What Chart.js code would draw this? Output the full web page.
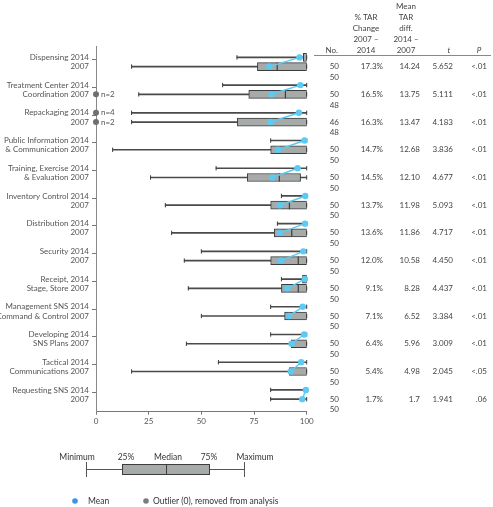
<!DOCTYPE html>
<html>
<head>
<meta charset="utf-8">
<script src="https://cdn.jsdelivr.net/npm/chart.js@4/dist/chart.umd.min.js"></script>
<style>
  html, body { margin: 0; padding: 0; background: #fff; }
  canvas { display: block; }
</style>
</head>
<body>
<canvas id="chart" width="493" height="507"></canvas>
<script>
// row labels, first line goes with 2014, second with 2007
const labels2014 = ['Dispensing 2014', 'Treatment Center 2014', 'Repackaging 2014', 'Public Information 2014',
    'Training, Exercise 2014', 'Inventory Control 2014', 'Distribution 2014', 'Security 2014', 'Receipt, 2014',
    'Management SNS 2014', 'Developing 2014', 'Tactical 2014', 'Requesting SNS 2014'];
const labels2007 = ['2007', 'Coordination 2007', '2007', '& Communication 2007', '& Evaluation 2007', '2007',
    '2007', '2007', 'Stage, Store 2007', 'Command & Control 2007', 'SNS Plans 2007', 'Communications 2007', '2007'];

// 2014 distributions
const min2014 = [66.9, 60.1, 16.9, 82.9, 57.0, 88.0, 86.1, 50.0, 88.0, 82.9, 82.9, 58.1, 82.9];
const max2014 = [100, 100, 100, 100, 100, 100, 100, 100, 100, 100, 100, 100, 100];
const q1_2014 = [98.4, null, null, null, null, null, null, null, 98.0, null, null, null, null];
const q3_2014 = [100, null, null, null, null, null, null, null, 100, null, null, null, null];
const mean2014 = [96.6, 97.0, 96.3, 99.0, 95.7, 99.3, 99.2, 98.4, 99.1, 98.1, 98.8, 97.4, 99.6];

// 2007 distributions
const min2007 = [16.9, 20.3, 16.9, 7.9, 25.9, 32.9, 35.9, 41.9, 43.8, 50.0, 42.9, 16.9, 82.9];
const max2007 = [100, 100, 100, 100, 100, 100, 100, 100, 100, 100, 100, 100, 100];
const q1_2007 = [76.6, 72.5, 67.1, 82.9, 71.8, 82.9, 84.6, 82.9, 88.0, 89.5, 92.7, 91.8, null];
const q3_2007 = [100, 100, 100, 100, 97.1, 100, 100, 100, 100, 100, 100, 100, null];
const median2007 = [86.0, 89.9, null, null, 87.0, 91.8, 92.9, 96.0, 96.0, null, null, null, null];
const mean2007 = [82.3, 83.3, 82.8, 86.3, 83.6, 87.3, 87.3, 87.8, 90.8, 91.6, 92.8, 92.4, 97.9];

// outliers at 0
const outlierCats = [1, 2, 2];
const outlierYears = [2007, 2014, 2007];
const outlierCounts = [2, 4, 2];

// table on the right
const no2014 = [50, 50, 46, 50, 50, 50, 50, 50, 50, 50, 50, 50, 50];
const no2007 = [50, 48, 48, 50, 50, 50, 50, 50, 50, 50, 50, 50, 50];
const pctChange = ['17.3%', '16.5%', '16.3%', '14.7%', '14.5%', '13.7%', '13.6%', '12.0%', '9.1%', '7.1%', '6.4%', '5.4%', '1.7%'];
const meanDiff = ['14.24', '13.75', '13.47', '12.68', '12.10', '11.98', '11.86', '10.58', '8.28', '6.52', '5.96', '4.98', '1.7'];
const tStat = ['5.652', '5.111', '4.183', '3.836', '4.677', '5.093', '4.717', '4.450', '4.437', '3.384', '3.009', '2.045', '1.941'];
const pVal = ['<.01', '<.01', '<.01', '<.01', '<.01', '<.01', '<.01', '<.01', '<.01', '<.01', '<.01', '<.05', '.06'];

const xTicks = [0, 25, 50, 75, 100];

const FONT = 'Lato';
const MEAN_COLOR = '#5ccbf3';
const BOX_FILL = '#a6aaa9';
const DARK = '#3d3d3d';
const TEXT = '#555';

function row2014(k) { return k * 3; }
function row2007(k) { return k * 3 + 1; }

const rowTicks = [];
labels2014.forEach((l, k) => { rowTicks.push(3 * k, 3 * k + 0.5, 3 * k + 1); });

// whiskers, caps, boxes, medians
const whiskerData = [];
const capData = [];
const boxData = [];
labels2014.forEach((l, k) => {
    whiskerData.push({ y: row2014(k), x: [min2014[k], max2014[k]] });
    whiskerData.push({ y: row2007(k), x: [min2007[k], max2007[k]] });
    capData.push({ x: min2014[k], y: row2014(k) }, { x: max2014[k], y: row2014(k) });
    capData.push({ x: min2007[k], y: row2007(k) }, { x: max2007[k], y: row2007(k) });
    if (q1_2014[k] !== null) boxData.push({ y: row2014(k), x: [q1_2014[k], q3_2014[k]] });
    if (q1_2007[k] !== null) boxData.push({ y: row2007(k), x: [q1_2007[k], q3_2007[k]] });
});
const medianData = median2007.map((m, k) => m === null ? null : { x: m, y: row2007(k) }).filter(p => p);

const meanDatasets = labels2014.map((l, k) => ({
    type: 'line',
    data: [{ x: mean2014[k], y: row2014(k) }, { x: mean2007[k], y: row2007(k) }],
    borderColor: MEAN_COLOR,
    borderWidth: 1.5,
    pointRadius: 3.2,
    pointBackgroundColor: MEAN_COLOR,
    pointBorderWidth: 0,
    clip: false,
    order: 1
}));

const outlierData = outlierCats.map((c, i) => ({ x: 0, y: outlierYears[i] === 2014 ? row2014(c) : row2007(c) }));

const extrasPlugin = {
    id: 'extras',
    afterDraw(chart) {
        const ctx = chart.ctx;
        const ys = chart.scales.y;
        const xs = chart.scales.x;
        ctx.save();
        ctx.fillStyle = TEXT;
        ctx.textBaseline = 'middle';
        ctx.font = '8px ' + FONT;

        // n= labels next to outliers
        ctx.textAlign = 'left';
        outlierData.forEach((p, i) => {
            ctx.fillText('n=' + outlierCounts[i], xs.getPixelForValue(0) + 5, ys.getPixelForValue(p.y));
        });

        // table header
        ctx.fillStyle = '#444';
        const hy = [6, 17, 28, 39, 50];
        ctx.textAlign = 'right';
        ctx.fillText('No.', 338, hy[4]);
        ctx.textAlign = 'center';
        ['% TAR', 'Change', '2007 –', '2014'].forEach((t, i) => ctx.fillText(t, 366, hy[i + 1]));
        ['Mean', 'TAR', 'diff.', '2014 –', '2007'].forEach((t, i) => ctx.fillText(t, 406, hy[i]));
        ctx.font = 'italic 8px ' + FONT;
        ctx.fillText('t', 449, hy[4]);
        ctx.fillText('P', 479, hy[4]);
        ctx.font = '8px ' + FONT;
        ctx.strokeStyle = '#888';
        ctx.lineWidth = 1;
        ctx.beginPath();
        ctx.moveTo(314, 55.5);
        ctx.lineTo(491, 55.5);
        ctx.stroke();

        // table rows
        labels2014.forEach((l, k) => {
            const y1 = ys.getPixelForValue(row2007(k));
            const y2 = ys.getPixelForValue(row2007(k) + 1.15);
            ctx.textAlign = 'right';
            ctx.fillText(String(no2014[k]), 339, y1);
            ctx.fillText(String(no2007[k]), 339, y2);
            ctx.fillText(pctChange[k], 383, y1);
            ctx.fillText(meanDiff[k], 420, y1);
            ctx.fillText(tStat[k], 453, y1);
            ctx.fillText(pVal[k], 487, y1);
        });

        // box plot key
        ctx.textAlign = 'center';
        ctx.font = '8.5px ' + FONT;
        ctx.fillStyle = '#333';
        ctx.fillText('Minimum', 77, 457);
        ctx.fillText('25%', 126, 457);
        ctx.fillText('Median', 168, 457);
        ctx.fillText('75%', 209, 457);
        ctx.fillText('Maximum', 255, 457);
        ctx.strokeStyle = '#555';
        ctx.beginPath();
        ctx.moveTo(86, 469.5); ctx.lineTo(245, 469.5);
        ctx.moveTo(86.5, 462); ctx.lineTo(86.5, 477);
        ctx.moveTo(244.5, 462); ctx.lineTo(244.5, 477);
        ctx.stroke();
        ctx.fillStyle = BOX_FILL;
        ctx.fillRect(122.5, 464.5, 87, 10);
        ctx.strokeStyle = DARK;
        ctx.strokeRect(122.5, 464.5, 87, 10);
        ctx.beginPath();
        ctx.moveTo(166.5, 464.5); ctx.lineTo(166.5, 474.5);
        ctx.stroke();

        // marker key
        ctx.fillStyle = '#3f93e6';
        ctx.beginPath(); ctx.arc(75, 501, 2.8, 0, Math.PI * 2); ctx.fill();
        ctx.fillStyle = '#7a7d7d';
        ctx.beginPath(); ctx.arc(146, 501, 2.8, 0, Math.PI * 2); ctx.fill();
        ctx.fillStyle = '#333';
        ctx.textAlign = 'left';
        ctx.fillText('Mean', 88, 501);
        ctx.fillText('Outlier (0), removed from analysis', 153, 501);
        ctx.restore();
    }
};

Chart.defaults.font.family = FONT;
Chart.defaults.font.size = 8;
Chart.defaults.color = TEXT;

new Chart(document.getElementById('chart').getContext('2d'), {
    type: 'bar',
    data: {
        datasets: [
            {
                type: 'bar',
                data: whiskerData,
                backgroundColor: '#4a4a4a',
                barThickness: 1,
                grouped: false,
                order: 6
            },
            {
                type: 'bar',
                data: boxData,
                backgroundColor: BOX_FILL,
                borderColor: DARK,
                borderWidth: 1,
                borderSkipped: false,
                barThickness: 8,
                grouped: false,
                order: 5
            },
            {
                type: 'scatter',
                data: capData,
                pointStyle: 'line',
                rotation: 90,
                radius: 2.2,
                borderColor: '#3d3d3d',
                borderWidth: 1,
                clip: false,
                order: 4
            },
            {
                type: 'scatter',
                data: medianData,
                pointStyle: 'line',
                rotation: 90,
                radius: 4,
                borderColor: DARK,
                borderWidth: 1.2,
                order: 3
            },
            ...meanDatasets,
            {
                type: 'scatter',
                data: outlierData,
                radius: 3,
                backgroundColor: '#6d7070',
                borderWidth: 0,
                clip: false,
                order: 0
            }
        ]
    },
    options: {
        indexAxis: 'y',
        responsive: false,
        animation: false,
        devicePixelRatio: 1,
        layout: { padding: { left: 0, right: 186.3, top: 46.7, bottom: 77.3 } },
        plugins: { legend: { display: false }, tooltip: { enabled: false } },
        scales: {
            x: {
                type: 'linear',
                min: 0,
                max: 100,
                afterBuildTicks: scale => { scale.ticks = xTicks.map(v => ({ value: v })); },
                afterFit: scale => { scale.height = 18; },
                grid: { drawOnChartArea: false, tickLength: 3, color: '#777' },
                border: { color: '#777' },
                ticks: { padding: 2, color: TEXT, font: { size: 8 } }
            },
            y: {
                type: 'linear',
                reverse: true,
                min: -0.65,
                max: 37.85,
                afterBuildTicks: scale => { scale.ticks = rowTicks.map(v => ({ value: v })); },
                afterFit: scale => { scale.width = 96; },
                grid: {
                    drawOnChartArea: false,
                    tickLength: 4,
                    tickColor: c => (c.tick && c.tick.value % 3 === 0.5) ? '#777' : 'rgba(0,0,0,0)'
                },
                border: { color: '#888' },
                ticks: {
                    autoSkip: false,
                    padding: 3,
                    color: TEXT,
                    font: { size: 8 },
                    callback: v => {
                        const k = Math.floor(v / 3);
                        const r = v - 3 * k;
                        if (r === 0) return labels2014[k];
                        if (r === 1) return labels2007[k];
                        return '';
                    }
                }
            }
        }
    },
    plugins: [extrasPlugin]
});
</script>
</body>
</html>
